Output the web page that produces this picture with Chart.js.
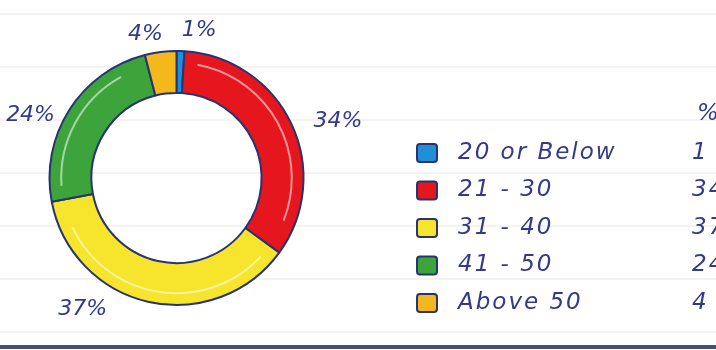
<!DOCTYPE html>
<html>
<head>
<meta charset="utf-8">
<script src="https://cdn.jsdelivr.net/npm/chart.js@4/dist/chart.umd.min.js"></script>
<style>
    html, body { margin: 0; padding: 0; background: #fff; }
    #wrap { width: 716px; height: 350px; position: relative; }
</style>
</head>
<body>
<div id="wrap"><canvas id="chart" width="716" height="350"></canvas></div>
<script>
const ageGroups = ["20 or Below", "21 - 30", "31 - 40", "41 - 50", "Above 50"];
const shares = [1, 34, 37, 24, 4];

const fills = ["#1f8fd6", "#e5161d", "#f6e52c", "#3ca43b", "#f4b81c"];
const ink = "#34398a";
const outline = "#283372";
const hand = "italic 22px 'DejaVu Sans'";
const legendHand = "italic 23px 'DejaVu Sans'";

// nudges so the small labels near the top don't collide
const labelTurn = [7, 6, 23, -9, -5];
const labelGap = [22, 44, 34, 32, 20];

const ctx = document.getElementById("chart");

// notebook paper: faint rules and a dark edge at the bottom
const paper = {
    id: "paper",
    beforeDraw(chart) {
        const c = chart.ctx;
        c.save();
        c.fillStyle = "#fff";
        c.fillRect(0, 0, chart.width, chart.height);
        c.strokeStyle = "#efefef";
        c.lineWidth = 1.5;
        for (let y = 14; y < 340; y += 53) {
            c.beginPath();
            c.moveTo(0, y);
            c.lineTo(chart.width, y);
            c.stroke();
        }
        c.strokeStyle = "#46507f";
        c.lineWidth = 4;
        c.beginPath();
        c.moveTo(0, 347);
        c.lineTo(chart.width, 347);
        c.stroke();
        c.restore();
    }
};

// light streaks on each segment plus the percent labels around the ring
const ringLabels = {
    id: "ringLabels",
    afterDatasetsDraw(chart) {
        const c = chart.ctx;
        const arcs = chart.getDatasetMeta(0).data;
        const values = chart.data.datasets[0].data;
        c.save();
        arcs.forEach((arc, i) => {
            const p = arc.getProps(["x", "y", "startAngle", "endAngle", "innerRadius", "outerRadius"]);
            if (p.endAngle - p.startAngle > 0.3) {
                c.strokeStyle = "rgba(255,255,255,0.55)";
                c.lineWidth = 2;
                c.beginPath();
                c.arc(p.x, p.y, p.innerRadius + (p.outerRadius - p.innerRadius) * 0.72,
                    p.startAngle + 0.12, p.endAngle - 0.25);
                c.stroke();
            }
            const mid = (p.startAngle + p.endAngle) / 2 + labelTurn[i] * Math.PI / 180;
            const r = p.outerRadius + labelGap[i];
            c.font = hand;
            c.fillStyle = ink;
            c.textAlign = "center";
            c.textBaseline = "middle";
            c.fillText(values[i] + "%", p.x + Math.cos(mid) * r, p.y + Math.sin(mid) * r);
        });
        c.restore();
    }
};

// legend with a value column on the right
const sideLegend = {
    id: "sideLegend",
    afterDraw(chart) {
        const c = chart.ctx;
        const ds = chart.data.datasets[0];
        c.save();
        c.font = legendHand;
        c.letterSpacing = "2px";
        c.fillStyle = ink;
        c.textBaseline = "middle";
        c.textAlign = "left";
        c.fillText("%", 697, 114);
        chart.data.labels.forEach((label, i) => {
            const y = 153 + i * 37.5;
            c.fillStyle = ds.backgroundColor[i];
            c.strokeStyle = outline;
            c.lineWidth = 2;
            c.beginPath();
            c.roundRect(417, y - 9, 20, 18, 3);
            c.fill();
            c.stroke();
            c.fillStyle = ink;
            c.fillText(label, 458, y);
            c.fillText(String(ds.data[i]), 692, y);
        });
        c.restore();
    }
};

const chart = new Chart(ctx, {
    type: "doughnut",
    data: {
        labels: ageGroups,
        datasets: [{
            data: shares,
            backgroundColor: fills,
            borderColor: outline,
            borderWidth: 2
        }]
    },
    options: {
        responsive: false,
        animation: false,
        cutout: "67%",
        layout: {
            padding: { left: 48, right: 411, top: 50, bottom: 44 }
        },
        plugins: {
            legend: { display: false },
            tooltip: { enabled: false }
        }
    },
    plugins: [paper, ringLabels, sideLegend]
});
</script>
</body>
</html>
